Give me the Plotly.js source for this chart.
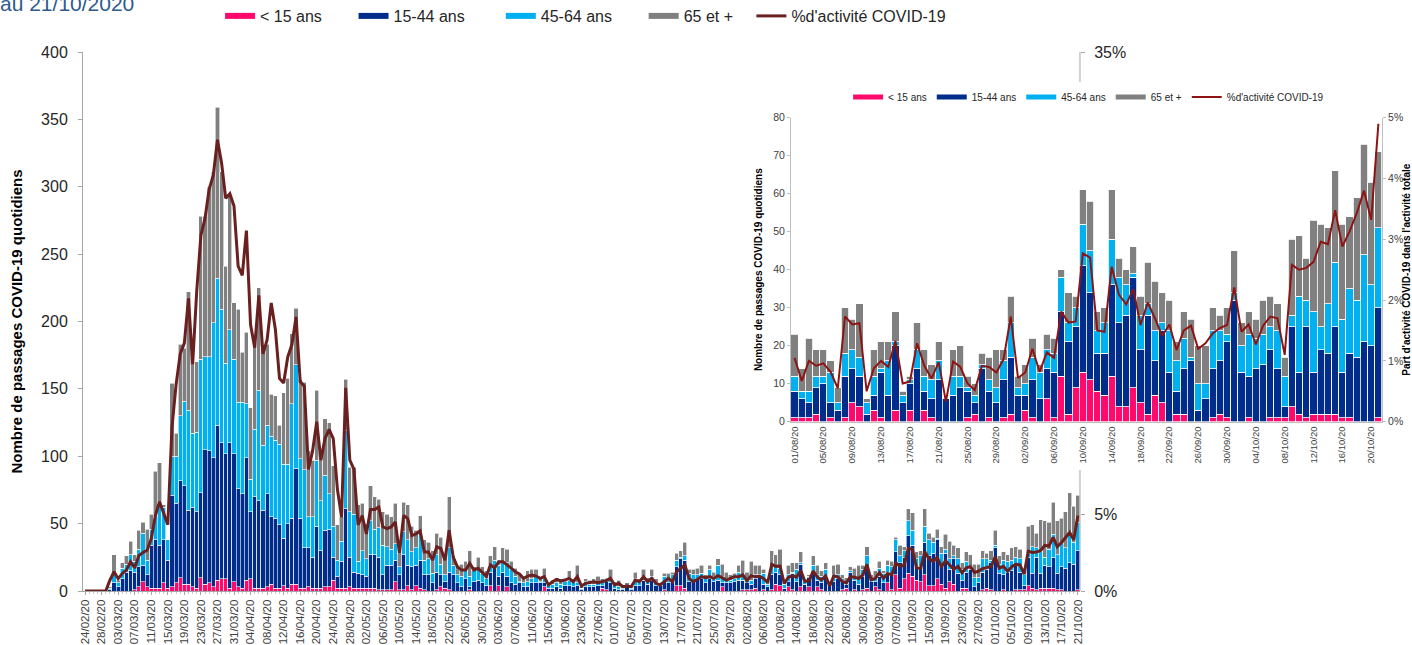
<!DOCTYPE html>
<html>
<head>
<meta charset="utf-8">
<script src="https://cdn.plot.ly/plotly-3.0.1.min.js"></script>
<style>
  html, body { margin: 0; padding: 0; background: #ffffff; }
  #chart { width: 1412px; height: 645px; }
</style>
</head>
<body>
<div id="chart"></div>
<script>
// Daily emergency visits for COVID-19 by age group, 24/02/20 -> 21/10/20
const firstDay = '2020-02-24';
const insetFirstDay = '2020-08-01';

const seriesNames = ['< 15 ans', '15-44 ans', '45-64 ans', '65 et +'];
const lineName = "%d'activité COVID-19";

// one value per day; rows: Feb, Mar, Apr, May, Jun, Jul, Aug, Sep, Oct
const lt15 = [
  0,0,0,0,0,0,
  0,0,0,0,0,0,1,3,7,3,2,2,2,6,2,3,6,10,5,5,3,2,10,5,6,3,8,9,9,2,7,
  3,2,8,9,2,2,2,3,5,2,2,4,2,5,5,2,2,3,2,2,2,3,3,8,2,2,2,3,2,2,
  2,2,2,2,1,1,1,1,7,1,1,4,1,4,2,1,0,0,1,3,2,1,0,0,0,0,1,0,0,0,0,
  4,0,4,0,3,0,0,0,0,0,0,0,0,3,0,0,0,0,0,0,0,0,0,0,0,0,0,2,1,0,
  0,0,0,0,0,0,0,0,0,0,0,0,1,0,0,4,4,2,0,0,0,0,0,0,0,0,3,0,0,0,0,
  1,1,1,2,0,1,0,1,5,4,0,3,1,0,3,0,3,0,3,1,0,0,0,0,1,2,0,1,0,1,2,
  0,3,1,0,6,1,12,2,9,13,11,8,7,12,4,4,9,5,2,7,5,0,2,2,0,0,0,1,2,1,
  0,0,1,0,0,1,1,1,4,2,1,2,2,2,2,1,1,0,0,0,1
];
const a15_44 = [
  0,0,0,0,0,0,
  1,6,3,9,14,15,13,15,12,9,32,36,32,32,21,68,59,72,73,55,59,57,63,100,98,96,115,101,93,108,95,
  73,70,91,50,68,65,58,69,50,52,47,35,48,49,86,52,30,29,23,46,28,42,43,17,9,20,59,22,12,11,
  10,9,25,25,24,11,18,18,16,11,26,15,17,15,21,11,12,6,13,9,5,13,12,6,3,9,2,7,8,6,4,
  10,18,7,14,8,6,5,6,3,3,6,6,6,3,2,2,3,2,4,4,3,4,1,3,3,3,4,2,6,6,
  2,1,1,3,1,4,4,8,5,8,4,4,6,6,7,14,20,21,7,8,9,9,6,9,7,8,3,6,6,7,8,
  7,5,4,7,10,4,3,11,9,8,2,4,12,7,17,5,7,14,5,5,11,6,7,9,7,3,14,7,5,10,15,
  7,4,10,6,8,12,17,19,16,28,23,10,11,24,22,24,29,14,26,9,19,13,6,12,16,3,6,13,14,20,
  32,13,11,14,15,18,13,3,21,11,24,11,17,16,23,12,17,17,21,20,29
];
const a45_64 = [
  0,0,0,0,0,0,
  1,8,3,8,6,12,8,13,24,11,12,17,32,24,15,29,35,48,63,74,55,59,99,69,70,100,109,99,67,84,70,
  64,68,40,24,50,82,48,51,60,58,60,55,44,85,77,44,58,23,30,49,37,41,26,23,12,15,58,34,43,9,
  18,13,25,19,22,22,14,12,12,6,17,19,11,13,21,11,12,7,13,8,5,18,7,6,8,6,8,8,9,7,5,
  5,5,8,8,10,10,6,1,3,4,3,5,1,3,2,3,3,3,3,4,4,2,1,4,2,2,3,2,2,3,
  3,2,1,1,1,5,2,3,2,3,2,1,4,2,5,5,1,3,6,4,3,4,3,7,4,11,5,3,2,2,6,
  4,2,3,3,2,8,2,6,5,5,3,5,1,9,1,2,1,5,4,5,5,0,5,3,1,2,1,3,4,5,9,
  2,3,6,7,5,5,9,5,5,11,11,6,8,12,12,8,1,9,3,8,2,11,8,8,1,7,4,10,8,2,
  2,7,11,8,8,6,10,8,3,20,7,16,6,13,17,14,17,15,23,16,21
];
const a65plus = [
  0,0,0,0,0,0,
  1,13,2,4,6,10,5,14,8,23,11,34,29,2,0,54,17,53,39,88,51,52,106,104,126,112,127,102,72,100,42,
  69,37,53,53,65,76,74,60,31,33,14,53,64,52,42,59,65,49,42,52,32,42,53,45,26,18,38,33,35,42,
  35,26,26,24,21,25,24,24,30,10,22,26,19,13,12,15,12,17,16,20,13,38,7,7,9,7,19,3,8,5,6,
  7,10,4,10,10,6,6,6,4,8,7,5,3,8,1,3,4,4,2,7,2,13,1,2,3,4,4,3,1,7,
  2,5,1,2,1,5,3,5,3,5,3,1,2,5,2,5,5,10,3,4,5,6,3,3,3,5,9,5,4,4,5,
  11,6,14,7,7,3,4,12,8,14,1,7,7,5,8,1,1,7,7,4,5,0,7,8,3,3,3,6,10,3,7,
  3,5,5,2,4,4,2,8,3,9,13,5,4,13,5,4,7,5,11,13,8,8,5,7,10,10,10,6,4,7,
  11,6,6,5,9,8,7,5,20,16,11,24,27,20,24,25,19,27,29,27,20
];
// share of COVID-19 in all emergency activity, in %
const pctCovid = [
  0,0,0,0,0,0,
  0.7,1.25,0.8,1.14,1.36,1.9,1.5,2.3,2.5,2.65,3.4,4.9,5.8,5.1,4.3,10.6,13.4,15.4,16.1,19.0,14.7,19.5,23.1,24.2,26.1,27.0,29.3,27.8,25.5,25.8,25.0,
  21.1,20.5,23.4,17.3,15.8,19.2,15.4,16.3,18.7,17.0,13.8,13.5,15.2,16.0,17.8,13.6,13.3,7.9,9.1,11.0,8.5,9.9,10.5,9.9,6.6,4.8,13.2,8.5,7.9,4.3,
  4.9,3.7,5.3,5.3,5.45,4.16,4.05,4.16,4.48,2.44,4.9,4.7,3.6,3.7,3.9,2.54,2.54,2.0,2.87,2.76,2.0,3.94,2.2,1.57,1.36,1.36,1.79,1.36,1.47,1.2,0.95,
  1.7,1.5,1.9,1.9,1.7,1.45,1.25,1.1,0.82,0.97,1.04,0.97,0.82,0.93,0.39,0.6,0.76,0.65,0.71,0.82,0.6,0.93,0.32,0.5,0.54,0.6,0.54,0.6,0.67,0.82,
  0.39,0.5,0.28,0.32,0.28,0.71,0.6,0.93,0.6,0.82,0.5,0.39,0.6,0.82,0.6,1.26,1.47,1.69,0.82,0.6,0.76,0.93,0.87,0.93,0.82,1.0,0.87,0.71,0.82,0.93,0.93,
  1.05,0.67,1.0,0.92,0.96,0.82,0.55,1.73,1.6,1.62,0.5,0.88,1.0,0.9,1.33,0.63,0.66,1.29,0.92,0.71,0.98,0.33,0.99,0.9,0.63,0.52,0.92,0.9,0.81,1.03,1.73,
  0.72,0.81,1.2,0.82,1.14,1.05,1.81,1.63,1.65,2.77,2.7,1.5,1.48,2.55,2.09,1.93,2.18,1.59,1.96,1.7,1.41,1.6,1.18,1.5,1.58,1.2,1.29,1.45,1.54,1.59,
  2.21,1.48,1.6,1.27,1.58,1.73,1.7,1.1,2.58,2.5,2.53,2.63,2.96,2.92,3.48,2.88,3.13,3.43,3.8,3.32,4.9
];
// share axis of the main chart: only these ticks stay visible around the inset
const mainShareTicks = [0, 5, 35];
const mainShareLabels = ['0%', '5%', '35%'];

const ageSeries = [lt15, a15_44, a45_64, a65plus];
const ageColors = ['#ff0a6c', '#002d8c', '#00b0f0', '#808080'];
const mainLineColor = '#6b2020';
const insetLineColor = '#8e1414';

// calendar days, one per value
const DAY = 86400000;
const days = [];
const t0 = Date.parse(firstDay + 'T00:00:00Z');
for (let k = 0; k < lt15.length; k++) {
  days.push(new Date(t0 + k * DAY).toISOString().slice(0, 10));
}
const insetFrom = days.indexOf(insetFirstDay);
const insetDays = days.slice(insetFrom);

const traces = [];

// main chart: stacked bars + share line
ageSeries.forEach((vals, s) => {
  traces.push({
    type: 'bar', x: days, y: vals, xaxis: 'x', yaxis: 'y',
    name: seriesNames[s], showlegend: false,
    marker: { color: ageColors[s], line: { color: '#ffffff', width: 0.6 } }
  });
});
traces.push({
  type: 'scatter', mode: 'lines', x: days, y: pctCovid, xaxis: 'x', yaxis: 'y2',
  name: lineName, showlegend: false,
  line: { color: mainLineColor, width: 3 }
});

// inset: last weeks at a larger scale
ageSeries.forEach((vals, s) => {
  traces.push({
    type: 'bar', x: insetDays, y: vals.slice(insetFrom), xaxis: 'x2', yaxis: 'y3',
    name: seriesNames[s], showlegend: false,
    marker: { color: ageColors[s], line: { color: '#ffffff', width: 0.8 } }
  });
});
traces.push({
  type: 'scatter', mode: 'lines', x: insetDays, y: pctCovid.slice(insetFrom), xaxis: 'x2', yaxis: 'y4',
  name: lineName, showlegend: false,
  line: { color: insetLineColor, width: 2 }
});

// legend keys drawn as wide swatches; trailing non-breaking spaces widen the entries
const pad = n => '\u00a0'.repeat(n);
const mainPads = [6, 7, 6, 3, 0];
ageSeries.forEach((vals, s) => {
  traces.push({ type: 'scatter', mode: 'lines', x: [null], y: [null], xaxis: 'x', yaxis: 'y',
    name: seriesNames[s] + pad(mainPads[s]), legend: 'legend', line: { color: ageColors[s], width: 6 } });
});
traces.push({ type: 'scatter', mode: 'lines', x: [null], y: [null], xaxis: 'x', yaxis: 'y',
  name: lineName, legend: 'legend', line: { color: mainLineColor, width: 3 } });
ageSeries.forEach((vals, s) => {
  traces.push({ type: 'scatter', mode: 'lines', x: [null], y: [null], xaxis: 'x2', yaxis: 'y3',
    name: seriesNames[s], legend: 'legend2', line: { color: ageColors[s], width: 5 } });
});
traces.push({ type: 'scatter', mode: 'lines', x: [null], y: [null], xaxis: 'x2', yaxis: 'y3',
  name: lineName, legend: 'legend2', line: { color: insetLineColor, width: 2 } });

const axisGrey = '#a6a6a6';
const textCol = '#262626';

const layout = {
  width: 1412, height: 645,
  margin: { l: 83, r: 30, t: 52, b: 54, autoexpand: false },
  paper_bgcolor: '#ffffff', plot_bgcolor: '#ffffff',
  font: { family: 'Liberation Sans, Arial, sans-serif', color: textCol },
  barmode: 'stack', bargap: 0,
  showlegend: true,
  xaxis: {
    domain: [0, 0.7675], anchor: 'y', type: 'date',
    range: ['2020-02-23 12:00', '2020-10-21 12:00'],
    tick0: firstDay, dtick: 4 * DAY, tickformat: '%d/%m/%y', tickangle: -90,
    tickfont: { size: 11.5, color: '#404040' },
    ticks: 'outside', ticklen: 3, tickcolor: axisGrey,
    minor: { dtick: DAY, ticks: 'outside', ticklen: 2, tickcolor: '#c8c8c8', showgrid: false },
    showline: true, linecolor: axisGrey, showgrid: false, zeroline: false
  },
  yaxis: {
    domain: [0, 1], anchor: 'x', range: [0, 400], dtick: 50,
    ticks: 'outside', ticklen: 4, tickcolor: axisGrey, ticklabelstandoff: 7,
    showline: true, linecolor: axisGrey, showgrid: false, zeroline: false,
    tickfont: { size: 16, color: textCol },
    title: { text: '<b>Nombre de passages COVID-19 quotidiens</b>', font: { size: 15, color: '#000000' }, standoff: 14 }
  },
  yaxis2: {
    overlaying: 'y', side: 'right', anchor: 'x', range: [0, 35],
    tickmode: 'array', tickvals: mainShareTicks, ticktext: mainShareLabels,
    ticks: 'outside', ticklen: 4, tickcolor: axisGrey, ticklabelstandoff: 6,
    showline: false, showgrid: false, zeroline: false,
    tickfont: { size: 16, color: textCol }
  },
  xaxis2: {
    domain: [0.545, 1.0], anchor: 'y3', type: 'date',
    range: ['2020-07-31 12:00', '2020-10-21 12:00'],
    tick0: insetFirstDay, dtick: 4 * DAY, tickformat: '%d/%m/%y', tickangle: -90,
    tickfont: { size: 9.5, color: '#404040' },
    ticks: '', showline: true, linecolor: '#bfbfbf', showgrid: false, zeroline: false
  },
  yaxis3: {
    domain: [0.3141, 0.8781], anchor: 'x2', range: [0, 80], dtick: 10,
    ticks: 'outside', ticklen: 3, tickcolor: '#bfbfbf',
    showline: true, linecolor: '#bfbfbf', showgrid: false, zeroline: false,
    tickfont: { size: 10.5, color: '#404040' },
    title: { text: '<b>Nombre de passages COVID-19 quotidiens</b>', font: { size: 10, color: '#000000' }, standoff: 8 }
  },
  yaxis4: {
    overlaying: 'y3', side: 'right', anchor: 'x2', range: [0, 5], dtick: 1, ticksuffix: '%',
    ticks: 'outside', ticklen: 3, tickcolor: '#bfbfbf',
    showline: true, linecolor: '#bfbfbf', showgrid: false, zeroline: false,
    tickfont: { size: 10.5, color: '#404040' },
    title: { text: "<b>Part d'activité COVID-19 dans l'activité totale</b>", font: { size: 10, color: '#000000' }, standoff: 3 }
  },
  legend: {
    orientation: 'h', x: 0.1055, xanchor: 'left', y: 1.0668, yanchor: 'middle',
    font: { size: 16, color: textCol }, bgcolor: 'rgba(0,0,0,0)', traceorder: 'normal'
  },
  legend2: {
    orientation: 'h', x: 0.589, xanchor: 'left', y: 0.9165, yanchor: 'middle',
    font: { size: 10, color: textCol }, bgcolor: 'rgba(0,0,0,0)', traceorder: 'normal'
  },
  shapes: [
    // visible parts of the right-hand share axis of the main chart
    { type: 'line', xref: 'x domain', yref: 'y domain', x0: 1, x1: 1, y0: 0, y1: 0.2245,
      line: { color: axisGrey, width: 1 } },
    { type: 'line', xref: 'x domain', yref: 'y domain', x0: 1, x1: 1, y0: 0.944, y1: 1,
      line: { color: axisGrey, width: 1 } }
  ],
  annotations: [
    { xref: 'paper', yref: 'paper', x: -0.0655, y: 1.0895, xanchor: 'left', yanchor: 'middle',
      text: 'au 21/10/2020', showarrow: false, font: { size: 21, color: '#2e5a8c' } }
  ]
};

Plotly.newPlot('chart', traces, layout, { staticPlot: true, displayModeBar: false });
</script>
</body>
</html>
